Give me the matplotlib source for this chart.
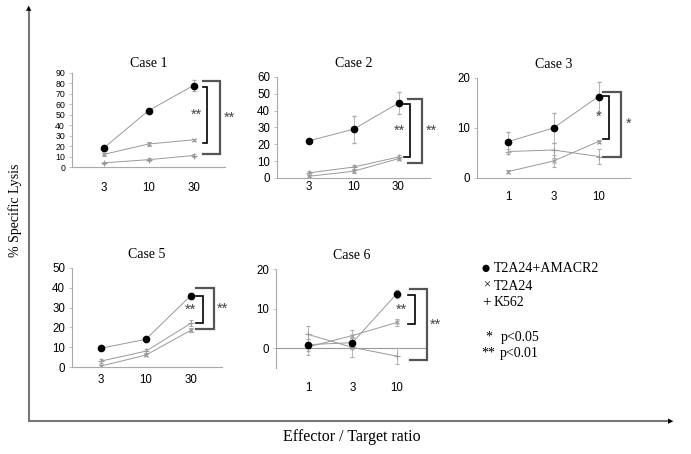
import numpy as np
import matplotlib.pyplot as plt

# =============================
# DATA
# =============================
labels_a = ["3", "10", "30"]
labels_b = ["1", "3", "10"]

# case 1
c1_amacr = [18, 54, 78]
c1_amacr_err = [1.5, 2, 5]
c1_t2a24 = [12, 22, 26]
c1_t2a24_err = [1, 2, 1]
c1_k562 = [4, 7, 11]
c1_k562_err = [1, 1.5, 1]

# case 2
c2_amacr = [22, 29, 44.5]
c2_amacr_err = [1, 8, 6.5]
c2_t2a24 = [1, 4, 11.5]
c2_t2a24_err = [0.5, 1, 1]
c2_k562 = [3, 6.5, 12.5]
c2_k562_err = [1, 1, 1]

# case 3
c3_amacr = [7.3, 10, 16.3]
c3_amacr_err = [2, 3, 3]
c3_t2a24 = [1.3, 3.4, 7.3]
c3_t2a24_err = [0.3, 1.2, 0.3]
c3_k562 = [5.3, 5.6, 4.3]
c3_k562_err = [0.5, 1.5, 1.5]

# case 5
c5_amacr = [9.5, 14, 36]
c5_amacr_err = [0.5, 0.5, 1.5]
c5_t2a24 = [0.5, 6, 18.5]
c5_t2a24_err = [0.3, 0.5, 1]
c5_k562 = [3, 8, 22]
c5_k562_err = [1, 1, 1.5]

# case 6
c6_amacr = [0.9, 1.4, 13.8]
c6_amacr_err = [1.5, 1.5, 1]
c6_t2a24 = [0.3, 3.2, 6.5]
c6_t2a24_err = [2, 1.5, 0.8]
c6_k562 = [3.5, 0.2, -2]
c6_k562_err = [2, 2.5, 2]

# significance brackets: (top, bottom, label)
c1_brackets = [(77, 23, "**"), (82, 12, "**")]
c2_brackets = [(44, 12.5, "**"), (47, 9, "**")]
c3_brackets = [(16.5, 7.8, "*"), (17.3, 4.3, "*")]
c5_brackets = [(36, 22, "**"), (40, 19, "**")]
c6_brackets = [(13.5, 6, "**"), (15, -3, "**")]

legend_symbols = ["\u25CF", "\u00D7", "+", "*", "**"]
legend_labels = ["T2A24+AMACR2", "T2A24", "K562", "p<0.05", "p<0.01"]

W, H = 691, 454
fig = plt.figure(figsize=(W / 100, H / 100), dpi=100)

SERIF = ["Liberation Serif", "DejaVu Serif"]
SANS = "Liberation Sans"


def px_axes(x0, x1, ytop, ybot):
    return fig.add_axes([x0 / W, 1 - ybot / H, (x1 - x0) / W, (ybot - ytop) / H])


def panel(ax, title, xlabels, amacr, amacr_err, t2, t2_err, k5, k5_err,
          ylim, yticks, brackets, geo, xlim=(-0.7, 2.7), pad=12, tpad=7.5,
          yfs=8.3, zero_line=False):
    x = np.arange(len(xlabels))
    ax.errorbar(x, k5, yerr=k5_err, color="#999999", lw=0.7, marker="+", ms=4,
                mew=0.8, ecolor="#aaaaaa", elinewidth=0.6, capsize=1.5, zorder=2)
    ax.errorbar(x, t2, yerr=t2_err, color="#999999", lw=0.7, marker="x", ms=3,
                mew=0.8, ecolor="#aaaaaa", elinewidth=0.6, capsize=1.5, zorder=2)
    ax.errorbar(x, amacr, yerr=amacr_err, color="#999999", lw=0.7, marker="o",
                ms=4.5, mfc="black", mec="black", ecolor="#aaaaaa",
                elinewidth=0.6, capsize=1.5, zorder=3)
    ax.set_xlim(*xlim)
    ax.set_ylim(*ylim)
    ax.set_xticks(x)
    ax.set_xticklabels(xlabels, fontfamily=SANS, fontsize=8.3)
    ax.set_yticks(yticks)
    ax.set_yticklabels([str(t) for t in yticks], fontfamily=SANS, fontsize=yfs)
    ax.tick_params(axis="x", length=0, pad=pad)
    ax.tick_params(axis="y", length=2, width=0.5, color="#aaaaaa", pad=3)
    for s in ["top", "right"]:
        ax.spines[s].set_visible(False)
    ax.spines["left"].set_color("#aaaaaa")
    ax.spines["left"].set_linewidth(0.8)
    if zero_line:
        ax.spines["bottom"].set_visible(False)
        ax.axhline(0, color="#999999", lw=0.8, zorder=1)
    else:
        ax.spines["bottom"].set_color("#aaaaaa")
        ax.spines["bottom"].set_linewidth(0.8)
    ax.set_title(title, fontfamily=SERIF, fontsize=10, pad=tpad)

    # brackets: geo = (inner_tick, inner_x, inner_txt, outer_tick, outer_x, outer_txt)
    (top1, bot1, lab1), (top2, bot2, lab2) = brackets
    it, ix, itx, ot, ox, otx = geo
    ax.plot([it, ix, ix, it], [top1, top1, bot1, bot1], color="black", lw=1.2,
            clip_on=False, solid_joinstyle="miter")
    ax.plot([ot, ox, ox, ot], [top2, top2, bot2, bot2], color="#555555", lw=1.6,
            clip_on=False, solid_joinstyle="miter")
    ax.text(itx, (top1 + bot1) / 2, lab1, ha="center", va="center",
            fontsize=10.5, fontfamily=SANS, color="#444444")
    ax.text(otx, (top2 + bot2) / 2, lab2, ha="center", va="center",
            fontsize=10.5, fontfamily=SANS, color="#444444", clip_on=False)


ax1 = px_axes(72, 225, 73, 167)
panel(ax1, "Case 1", labels_a, c1_amacr, c1_amacr_err, c1_t2a24, c1_t2a24_err,
      c1_k562, c1_k562_err, (0, 90), list(range(0, 91, 10)), c1_brackets,
      (2.2, 2.31, 2.07, 2.2, 2.58, 2.8), pad=11, tpad=4, yfs=6.3)

ax2 = px_axes(277, 430, 77, 178)
panel(ax2, "Case 2", labels_a, c2_amacr, c2_amacr_err, c2_t2a24, c2_t2a24_err,
      c2_k562, c2_k562_err, (0, 60), list(range(0, 61, 10)), c2_brackets,
      (2.13, 2.25, 2.02, 2.22, 2.52, 2.74), pad=2.5)

ax3 = px_axes(477, 630, 78, 178)
panel(ax3, "Case 3", labels_b, c3_amacr, c3_amacr_err, c3_t2a24, c3_t2a24_err,
      c3_k562, c3_k562_err, (0, 20), [0, 10, 20], c3_brackets,
      (2.11, 2.24, 2.0, 2.11, 2.51, 2.66), pad=9)

ax5 = px_axes(72, 222, 268, 367)
panel(ax5, "Case 5", labels_a, c5_amacr, c5_amacr_err, c5_t2a24, c5_t2a24_err,
      c5_k562, c5_k562_err, (0, 50), list(range(0, 51, 10)), c5_brackets,
      (2.13, 2.27, 2.0, 2.13, 2.53, 2.72), xlim=(-0.65, 2.7), pad=5)

ax6 = px_axes(276, 428, 269, 368)
panel(ax6, "Case 6", labels_b, c6_amacr, c6_amacr_err, c6_t2a24, c6_t2a24_err,
      c6_k562, c6_k562_err, (-5, 20), [0, 10, 20], c6_brackets,
      (2.25, 2.4, 2.11, 2.29, 2.67, 2.87), xlim=(-0.72, 2.7), pad=10,
      zero_line=True)

# =============================
# OUTER FRAME WITH ARROWS
# =============================
fig.add_artist(plt.Line2D([29 / W, 29 / W], [1 - 421 / H, 1 - 12 / H],
                          color="#777777", lw=1.5))
fig.add_artist(plt.Line2D([29 / W, 668 / W], [1 - 421 / H, 1 - 421 / H],
                          color="#777777", lw=1.5))
fig.text(29 / W, 1 - 8 / H, "\u25B2", ha="center", va="center", fontsize=5,
         color="black", fontfamily="DejaVu Sans")
fig.text(671 / W, 1 - 421 / H, "\u25B6", ha="center", va="center", fontsize=5,
         color="black", fontfamily="DejaVu Sans")

fig.text(15 / W, 1 - 210 / H, "% Specific Lysis", rotation=90, ha="center",
         va="center", fontfamily=SERIF, fontsize=10)
fig.text(352 / W, 1 - 437 / H, "Effector / Target ratio", ha="center",
         va="center", fontfamily=SERIF, fontsize=11.5)

# =============================
# LEGEND TEXT
# =============================
sym_x = [486, 487, 487, 489, 488]
sym_size = [12, 9, 11, 10, 10]
lab_x = [494, 494, 494, 501, 500]
rows_y = [269, 286, 303, 337, 353]
for s, sx, ss, lab, lx, yy in zip(legend_symbols, sym_x, sym_size,
                                  legend_labels, lab_x, rows_y):
    fig.text(sx / W, 1 - yy / H, s, ha="center", va="center",
             fontfamily=["Liberation Serif", "DejaVu Sans"], fontsize=ss)
    fig.text(lx / W, 1 - yy / H, lab, ha="left", va="center",
             fontfamily=SERIF, fontsize=10)

fig.savefig("out.png", dpi=100)
